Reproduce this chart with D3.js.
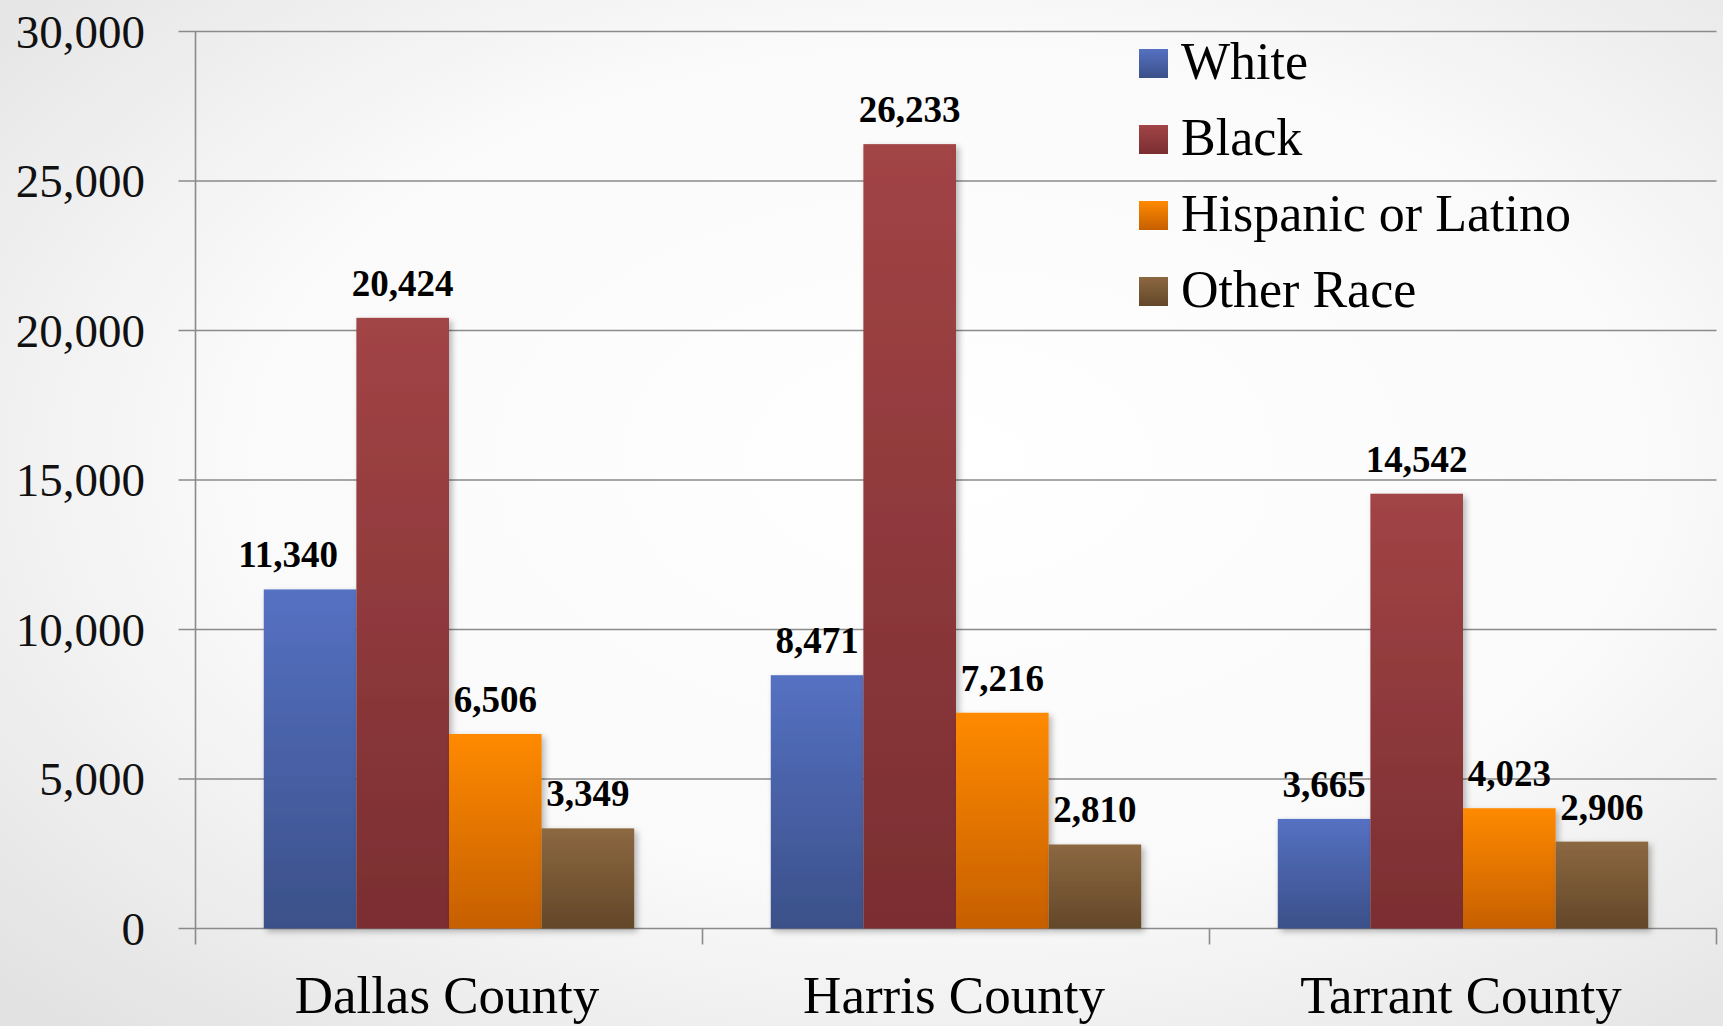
<!DOCTYPE html>
<html>
<head>
<meta charset="utf-8">
<script src="https://cdn.jsdelivr.net/npm/d3@7"></script>
<style>
  html, body { margin: 0; padding: 0; overflow: hidden; }
  svg { display: block; }
</style>
</head>
<body>
<svg id="chart" width="1723" height="1026"></svg>
<script>
const categories = ["Dallas County", "Harris County", "Tarrant County"];
const seriesNames = ["White", "Black", "Hispanic or Latino", "Other Race"];
const white    = [11340, 8471, 3665];
const black    = [20424, 26233, 14542];
const hispanic = [6506, 7216, 4023];
const other    = [3349, 2810, 2906];
const yTicks   = [0, 5000, 10000, 15000, 20000, 25000, 30000];
const colorsTop    = ["#5571c2", "#a24446", "#ff8a00", "#8c6841"];
const colorsBottom = ["#3b5089", "#7a2e31", "#c65f00", "#634729"];

const seriesValues = [white, black, hispanic, other];

(function () {
const W = 1723, H = 1026;
const svg = d3.select("#chart");
const defs = svg.append("defs");

// background radial gradient
const bg = defs.append("radialGradient").attr("id", "bg")
  .attr("cx", "55%").attr("cy", "45%").attr("r", "75%");
bg.append("stop").attr("offset", "0%").attr("stop-color", "#ffffff");
bg.append("stop").attr("offset", "55%").attr("stop-color", "#fafafa");
bg.append("stop").attr("offset", "100%").attr("stop-color", "#e2e2e2");
svg.append("rect").attr("width", W).attr("height", H).attr("fill", "url(#bg)");

seriesNames.forEach((s, i) => {
  const g = defs.append("linearGradient").attr("id", "g" + i)
    .attr("x1", 0).attr("y1", 0).attr("x2", 0).attr("y2", 1);
  g.append("stop").attr("offset", "0%").attr("stop-color", colorsTop[i]);
  g.append("stop").attr("offset", "100%").attr("stop-color", colorsBottom[i]);
});

const f = defs.append("filter").attr("id", "shadow")
  .attr("x", "-20%").attr("y", "-20%").attr("width", "150%").attr("height", "150%");
f.append("feDropShadow").attr("dx", 3).attr("dy", 3).attr("stdDeviation", 3)
  .attr("flood-color", "#000").attr("flood-opacity", 0.28);

const pLeft = 195.5, pRight = 1716.5, pTop = 31.5, pBottom = 928.5;

const x0 = d3.scaleBand().domain(categories).range([pLeft, pRight]).paddingInner(0).paddingOuter(0);
const x1 = d3.scaleBand().domain(seriesNames).range([0, x0.bandwidth()]).paddingOuter(0.737).paddingInner(0);
const y = d3.scaleLinear().domain([0, 30000]).range([pBottom, pTop]);

const fmt = d3.format(",");
const gridColor = "#8a8a8a";

// gridlines
svg.append("g").selectAll("line").data(yTicks).join("line")
  .attr("x1", pLeft - 17).attr("x2", pRight)
  .attr("y1", d => y(d)).attr("y2", d => y(d))
  .attr("stroke", gridColor).attr("stroke-width", 1.6);

// y axis line
svg.append("line").attr("x1", pLeft).attr("x2", pLeft)
  .attr("y1", pTop).attr("y2", pBottom + 16)
  .attr("stroke", gridColor).attr("stroke-width", 1.6);

// x ticks at band boundaries
const xb = categories.map(c => x0(c) + x0.bandwidth());
svg.append("g").selectAll("line").data(xb).join("line")
  .attr("x1", d => d).attr("x2", d => d)
  .attr("y1", pBottom).attr("y2", pBottom + 16)
  .attr("stroke", gridColor).attr("stroke-width", 1.6);

// y labels
svg.append("g").selectAll("text").data(yTicks).join("text")
  .attr("x", 145).attr("y", d => y(d) + 16)
  .attr("text-anchor", "end")
  .attr("font-family", "Liberation Serif, serif")
  .attr("font-size", 47)
  .attr("fill", "#111")
  .text(d => fmt(d));

// bars
const barData = [];
categories.forEach((c, ci) => {
  seriesNames.forEach((s, si) => {
    barData.push({ c, s, si, v: seriesValues[si][ci] });
  });
});

svg.append("g").selectAll("rect").data(barData).join("rect")
  .attr("x", d => x0(d.c) + x1(d.s))
  .attr("y", d => y(d.v))
  .attr("width", x1.bandwidth())
  .attr("height", d => y(0) - y(d.v))
  .attr("fill", d => "url(#g" + d.si + ")")
  .attr("filter", "url(#shadow)");

// value labels
svg.append("g").selectAll("text").data(barData).join("text")
  .attr("x", d => x0(d.c) + x1(d.s) + x1.bandwidth() / 2 + (d.c === "Dallas County" && d.si === 0 ? -22 : 0))
  .attr("y", d => y(d.v) - 22)
  .attr("text-anchor", "middle")
  .attr("font-family", "Liberation Serif, serif")
  .attr("font-weight", "bold")
  .attr("font-size", 37)
  .attr("fill", "#000")
  .text(d => fmt(d.v));

// category labels
svg.append("g").selectAll("text").data(categories).join("text")
  .attr("x", d => x0(d) + x0.bandwidth() / 2 - 2)
  .attr("y", 1013)
  .attr("text-anchor", "middle")
  .attr("font-family", "Liberation Serif, serif")
  .attr("font-size", 53)
  .attr("fill", "#000")
  .text(d => d);

// legend
const lg = svg.append("g").attr("transform", "translate(1139,49)");
const row = lg.selectAll("g").data(seriesNames).join("g")
  .attr("transform", (d, i) => `translate(0,${i * 76})`);
row.append("rect").attr("width", 29).attr("height", 29)
  .attr("fill", (d, i) => "url(#g" + i + ")");
row.append("text").attr("x", 42).attr("y", 30)
  .attr("font-family", "Liberation Serif, serif")
  .attr("font-size", 52)
  .attr("fill", "#000")
  .text(d => d);
})();
</script>
</body>
</html>
